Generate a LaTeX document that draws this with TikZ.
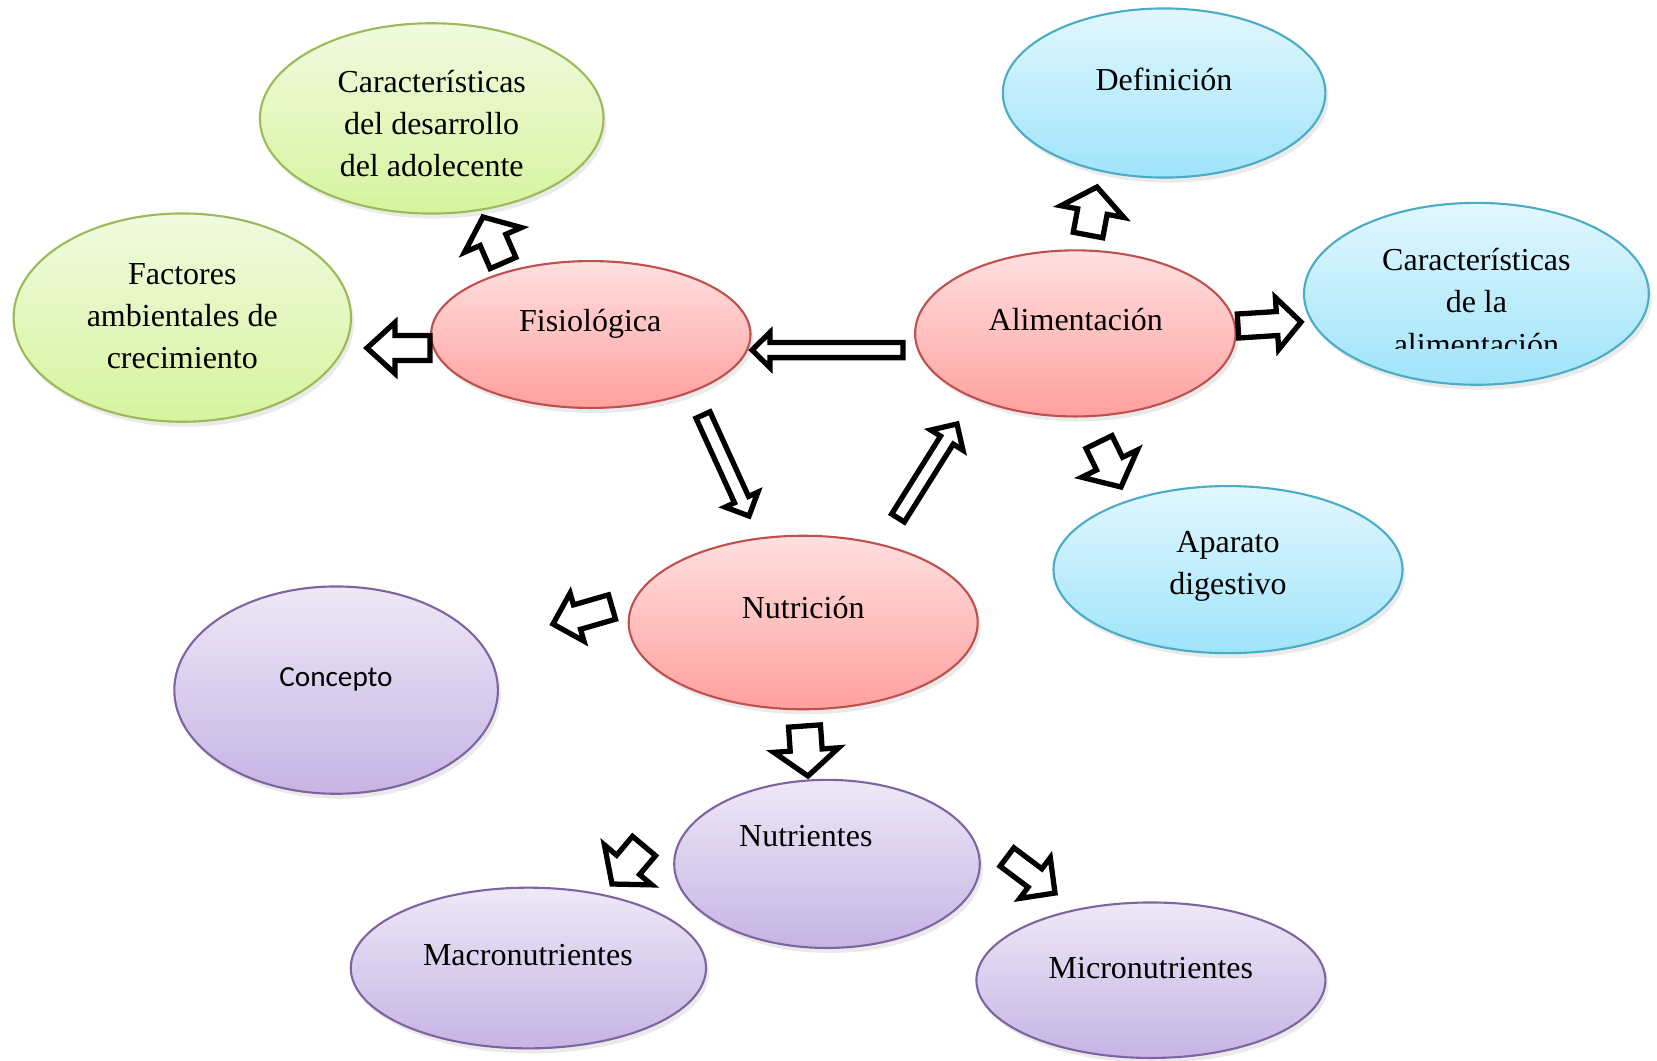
\documentclass[tikz,border=0pt]{standalone}
\usepackage{fontspec}
\setmainfont{Liberation Serif}
\newfontfamily\carlitofont{Carlito}
\usetikzlibrary{calc,shapes.geometric,shadows}

\definecolor{gtop}{HTML}{F1FAE0}
\definecolor{gbot}{HTML}{D6F49E}
\definecolor{gbd}{HTML}{9BBB59}
\definecolor{rtop}{HTML}{FFE0E0}
\definecolor{rbot}{HTML}{FFA09E}
\definecolor{rbd}{HTML}{C0504D}
\definecolor{btop}{HTML}{E2F7FE}
\definecolor{bbot}{HTML}{9FE4FA}
\definecolor{bbd}{HTML}{4BACC6}
\definecolor{ptop}{HTML}{EEE8F7}
\definecolor{pbot}{HTML}{C6B4E4}
\definecolor{pbd}{HTML}{8064A2}

\tikzset{
  bub/.style={ellipse, inner sep=0pt, line width=0.6pt,
    drop shadow={shadow xshift=0.03cm, shadow yshift=-0.05cm, opacity=0.16}},
  gbub/.style={bub, draw=gbd, top color=gtop, bottom color=gbot},
  rbub/.style={bub, draw=rbd, top color=rtop, bottom color=rbot},
  bbub/.style={bub, draw=bbd, top color=btop, bottom color=bbot},
  pbub/.style={bub, draw=pbd, top color=ptop, bottom color=pbot},
  lbl/.style={font=\fontsize{9.1}{11.95}\selectfont, align=center, inner sep=0pt},
  blk/.style={draw=black, fill=white, line width=1.5pt, line join=miter, miter limit=10},
}

% block arrow: #1 tail, #2 tip, #3 shaft half width, #4 head half width, #5 head length
\newcommand\barw[5]{%
  \coordinate (bhtmp) at ($(#2)!#5!(#1)$);
  \draw[blk] ($(#1)!#3!90:(#2)$) -- ($(bhtmp)!#3!90:(#2)$) -- ($(bhtmp)!#4!90:(#2)$)
    -- (#2) -- ($(bhtmp)!#4!-90:(#2)$) -- ($(bhtmp)!#3!-90:(#2)$)
    -- ($(#1)!#3!-90:(#2)$) -- cycle;}

\begin{document}
\begin{tikzpicture}[x=0.01cm, y=-0.01cm]
\fill[white] (0,0) rectangle (1657,1060);
\useasboundingbox (0,0) rectangle (1657,1060);

% ellipses
\node[gbub, minimum width=3.434cm, minimum height=1.902cm] (cdes) at (431.7,118.4) {};
\node[gbub, minimum width=3.372cm, minimum height=2.082cm] (fact) at (182.3,317.6) {};
\node[rbub, minimum width=3.192cm, minimum height=1.468cm] (fisi) at (590.8,334.5) {};
\node[rbub, minimum width=3.202cm, minimum height=1.660cm] (alim) at (1075.3,333.4) {};
\node[bbub, minimum width=3.224cm, minimum height=1.690cm] (defi) at (1164.1,93.0) {};
\node[bbub, minimum width=3.446cm, minimum height=1.818cm] (calim) at (1476.4,293.8) {};
\node[bbub, minimum width=3.488cm, minimum height=1.670cm] (apar) at (1228.0,569.6) {};
\node[rbub, minimum width=3.488cm, minimum height=1.734cm] (nutr) at (803.2,622.5) {};
\node[pbub, minimum width=3.234cm, minimum height=2.072cm] (conc) at (336.1,690.1) {};
\node[pbub, minimum width=3.054cm, minimum height=1.680cm] (ntes) at (827.0,863.9) {};
\node[pbub, minimum width=3.550cm, minimum height=1.606cm] (macro) at (528.4,968.0) {};
\node[pbub, minimum width=3.488cm, minimum height=1.554cm] (micro) at (1150.9,980.2) {};

% texts
\node[lbl] (tcdes) at (431.7,123.6) {Características\\del desarrollo\\del adolecente};
\node[lbl] (tfact) at (182.3,316) {Factores\\ambientales de\\crecimiento};
\node[lbl, anchor=base] (tfisi) at (590.2,331) {Fisiológica};
\node[lbl, anchor=base] (talim) at (1075.8,330) {Alimentación};
\node[lbl, anchor=base] (tdefi) at (1164,90) {Definición};
\begin{scope}
  \clip (1300,200) rectangle (1650,348);
  \node[lbl] (tcalim) at (1476.4,302) {Características\\de la\\alimentación};
\end{scope}
\node[lbl] (tapar) at (1228,566) {Aparato\\digestivo};
\node[lbl, anchor=base] (tnutr) at (803.2,618.5) {Nutrición};
\node[inner sep=0pt, anchor=base, font=\carlitofont\fontsize{8.3}{10}\selectfont] (tconc) at (336,686) {Concepto};
\node[lbl, anchor=base] (tntes) at (805.8,846) {Nutrientes};
\node[lbl, anchor=base] (tmacro) at (527.9,965) {Macronutrientes};
\node[lbl, anchor=base] (tmicro) at (1150.9,978) {Micronutrientes};

% arrow end points
\coordinate (aAt) at (503,263);   \coordinate (aAh) at (483,217);
\coordinate (aBt) at (430,348);   \coordinate (aBh) at (367,348);
\coordinate (aCt) at (903,350);   \coordinate (aCh) at (752,350);
\coordinate (aDt) at (1088,235);  \coordinate (aDh) at (1097,187);
\coordinate (aEt) at (1238,326);  \coordinate (aEh) at (1301,322);
\coordinate (aFt) at (1099,442);  \coordinate (aFh) at (1121,487);
\coordinate (aGt) at (703,415);   \coordinate (aGh) at (749,516);
\coordinate (aHt) at (898,518);   \coordinate (aHh) at (957,424);
\coordinate (aIt) at (612,607);   \coordinate (aIh) at (553,624);
\coordinate (aJt) at (804.5,726); \coordinate (aJh) at (808,776);
\coordinate (aKt) at (644,846);   \coordinate (aKh) at (612,884);
\coordinate (aLt) at (1007,857);  \coordinate (aLh) at (1055,893);

% block arrows
\barw{aAt}{aAh}{0.14cm}{0.31cm}{0.25cm}
\barw{aBt}{aBh}{0.125cm}{0.255cm}{0.28cm}
\barw{aCt}{aCh}{0.076cm}{0.176cm}{0.18cm}
\barw{aDt}{aDh}{0.15cm}{0.32cm}{0.25cm}
\barw{aEt}{aEh}{0.12cm}{0.26cm}{0.24cm}
\barw{aFt}{aFh}{0.145cm}{0.31cm}{0.26cm}
\barw{aGt}{aGh}{0.077cm}{0.18cm}{0.18cm}
\barw{aHt}{aHh}{0.075cm}{0.19cm}{0.19cm}
\barw{aIt}{aIh}{0.127cm}{0.25cm}{0.25cm}
\barw{aJt}{aJh}{0.16cm}{0.325cm}{0.26cm}
\barw{aKt}{aKh}{0.15cm}{0.31cm}{0.25cm}
\barw{aLt}{aLh}{0.115cm}{0.255cm}{0.25cm}
\end{tikzpicture}
\end{document}
